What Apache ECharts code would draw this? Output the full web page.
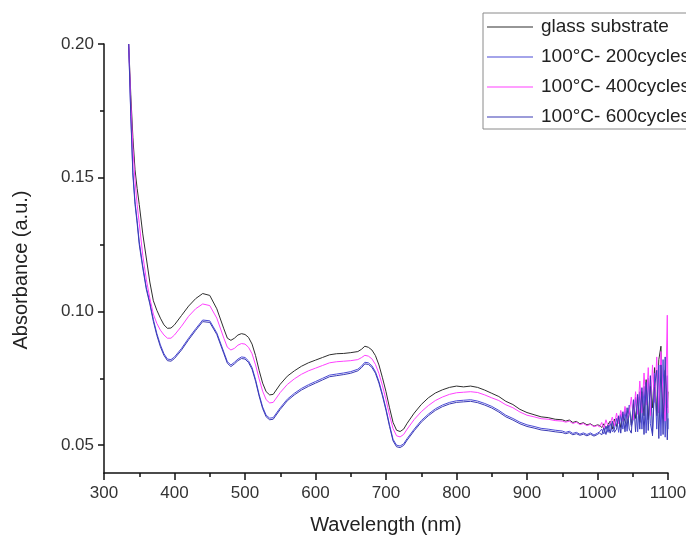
<!DOCTYPE html>
<html>
<head>
<meta charset="utf-8">
<script src="https://cdn.jsdelivr.net/npm/echarts@6/dist/echarts.min.js"></script>
<style>html,body{margin:0;padding:0;background:#fff;}#c{width:686px;height:540px;}</style>
</head>
<body>
<div id="c"></div>
<script>
// Wavelength grid (nm)
const wavelengths = [
  335, 338, 341, 344, 347, 350, 355, 360, 365, 370, 375, 380, 385, 390, 395, 400,
  410, 420, 430, 440, 450, 460, 470, 475, 480, 485, 490, 495, 500, 505, 510, 515, 520, 525, 530, 535, 540,
  550, 560, 570, 580, 590, 600, 610, 620, 630, 640, 650, 660, 665, 670, 675, 680, 685, 690, 695, 700, 705, 710, 715, 720, 725, 730,
  740, 750, 760, 770, 780, 790, 800, 810, 820, 830, 840, 850, 860, 870, 880, 890, 900, 910, 920, 930, 940, 950,
  955, 960, 965, 970, 975, 980, 985, 990, 995, 1000,
  1003, 1006, 1009, 1012, 1015, 1018, 1021, 1024, 1027, 1030, 1033, 1036, 1039, 1042, 1045, 1048, 1051,
  1054, 1057, 1060, 1063, 1066, 1069, 1072, 1075, 1078, 1081, 1084, 1087, 1090, 1093, 1096, 1099, 1100
];

const glassSubstrate = [
  .200, .181, .165, .153, .146, .140, .129, .120, .111, .1040, .1004, .0975, .0950, .0937, .0938, .0950,
  .0985, .1020, .1048, .1067, .1060, .1010, .0935, .0900, .0892, .0900, .0912, .0917, .0914, .0903, .0878, .0835, .0780, .0732, .0700, .0688, .0690,
  .0728, .0758, .0778, .0795, .0808, .0818, .0828, .0838, .0842, .0843, .0846, .0850, .0858, .0870, .0866, .0856, .0835, .0800, .0752, .0700, .0640, .0585, .0556, .0551, .0560, .0582,
  .0620, .0652, .0677, .0695, .0707, .0716, .0721, .0718, .0721, .0716, .0706, .0694, .0682, .0664, .0652, .0634, .0622, .0614, .0606, .0603, .0597, .0595,
  .0590, .0594, .0585, .0589, .0580, .0584, .0576, .0580, .0571, .0576,
  .0574, .0566, .0580, .0562, .0578, .0590, .0560, .0598, .0570, .0605, .0566, .0615, .0590, .0572, .0640, .0575, .0655,
  .0600, .0680, .0585, .0700, .0610, .0745, .0595, .0720, .0640, .0790, .0610, .0820, .0870, .0600, .0780, .0640, .0700
];

const cycles200 = [
  .200, .174, .152, .141, .134, .126, .117, .109, .1035, .0970, .0917, .0875, .0842, .0822, .0820, .0830,
  .0862, .0900, .0935, .0968, .0965, .0920, .0848, .0812, .0800, .0810, .0822, .0830, .0828, .0815, .0790, .0745, .0690, .0643, .0612, .0601, .0603,
  .0640, .0672, .0694, .0712, .0726, .0738, .0750, .0762, .0766, .0770, .0775, .0784, .0795, .0810, .0808, .0797, .0775, .0738, .0690, .0636, .0576, .0522, .0500, .0497, .0505, .0525,
  .0560, .0592, .0616, .0636, .0650, .0660, .0666, .0668, .0670, .0665, .0656, .0645, .0630, .0612, .0600, .0586, .0576, .0570, .0563, .0560, .0556, .0553,
  .0548, .0552, .0544, .0548, .0541, .0546, .0540, .0546, .0538, .0545,
  .0550, .0560, .0542, .0570, .0548, .0585, .0550, .0560, .0600, .0548, .0615, .0560, .0630, .0552, .0650, .0570, .0600,
  .0680, .0550, .0700, .0560, .0720, .0545, .0750, .0580, .0540, .0770, .0560, .0800, .0535, .0820, .0530, .0760, .0560
];

const cycles400 = [
  .200, .178, .161, .149, .140, .133, .121, .112, .105, .0990, .0955, .0930, .0912, .0900, .0900, .0912,
  .0945, .0982, .1010, .1028, .1022, .0975, .0900, .0866, .0856, .0862, .0874, .0880, .0878, .0866, .0842, .0800, .0748, .0702, .0670, .0658, .0660,
  .0697, .0727, .0748, .0765, .0778, .0788, .0798, .0808, .0812, .0814, .0816, .0820, .0827, .0836, .0833, .0823, .0802, .0768, .0722, .0670, .0612, .0562, .0535, .0531, .0540, .0560,
  .0596, .0625, .0648, .0667, .0680, .0690, .0696, .0698, .0700, .0697, .0688, .0677, .0667, .0651, .0640, .0624, .0612, .0606, .0599, .0597, .0592, .0590,
  .0586, .0590, .0581, .0586, .0577, .0581, .0573, .0578, .0569, .0574,
  .0568, .0585, .0562, .0595, .0570, .0580, .0605, .0572, .0620, .0580, .0630, .0590, .0645, .0600, .0620, .0680, .0595,
  .0700, .0615, .0740, .0620, .0770, .0650, .0790, .0610, .0800, .0660, .0830, .0620, .0850, .0680, .0590, .0986, .0620
];

const cycles600 = [
  .200, .173, .151, .140, .133, .125, .1162, .1083, .1028, .0963, .0910, .0868, .0836, .0816, .0814, .0824,
  .0856, .0894, .0929, .0962, .0959, .0914, .0842, .0806, .0794, .0804, .0816, .0824, .0822, .0809, .0784, .0739, .0684, .0637, .0606, .0595, .0597,
  .0634, .0666, .0688, .0706, .0720, .0732, .0744, .0756, .0760, .0764, .0769, .0778, .0789, .0804, .0802, .0791, .0769, .0732, .0684, .0630, .0570, .0516, .0494, .0491, .0499, .0519,
  .0554, .0586, .0610, .0630, .0644, .0654, .0660, .0662, .0664, .0659, .0650, .0639, .0624, .0606, .0594, .0580, .0570, .0564, .0557, .0554, .0550, .0547,
  .0543, .0547, .0539, .0543, .0537, .0541, .0535, .0541, .0534, .0540,
  .0546, .0538, .0565, .0540, .0575, .0545, .0590, .0548, .0560, .0610, .0545, .0625, .0550, .0640, .0560, .0545, .0670,
  .0550, .0690, .0560, .0715, .0540, .0735, .0555, .0760, .0535, .0720, .0780, .0525, .0800, .0540, .0830, .0520, .0600
];

const seriesNames = ['glass substrate', '100°C- 200cycles', '100°C- 400cycles', '100°C- 600cycles'];
const seriesValues = [glassSubstrate, cycles200, cycles400, cycles600];
const seriesColors = ['#2e2e2e', '#4b4bd6', '#ff40ff', '#3a3ab4'];

const yMajorTicks = [0.05, 0.10, 0.15, 0.20];
const yMinorTicks = [0.075, 0.125, 0.175];

const FONT = '"Liberation Sans", Arial, sans-serif';

const chart = echarts.init(document.getElementById('c'), null, {renderer: 'canvas'});

const series = seriesNames.map((name, k) => ({
  name: name,
  type: 'line',
  symbol: 'none',
  showSymbol: false,
  smooth: false,
  color: seriesColors[k],
  lineStyle: {width: 1, color: seriesColors[k]},
  data: wavelengths.map((w, i) => [w, seriesValues[k][i]]),
  z: 2 + k
}));

chart.setOption({
  animation: false,
  backgroundColor: '#ffffff',
  grid: {left: 104, right: 18, top: 44, bottom: 67, containLabel: false, outerBoundsMode: 'none'},
  legend: {
    orient: 'vertical',
    left: 483,
    top: 13,
    data: seriesNames.map(n => ({name: n, icon: 'rect'})),
    itemWidth: 46,
    itemHeight: 1,
    itemGap: 10,
    padding: [4, 10, 2, 4],
    borderColor: '#8a8a8a',
    borderWidth: 1,
    backgroundColor: '#ffffff',
    textStyle: {fontFamily: FONT, fontSize: 19, color: '#222', lineHeight: 20, padding: [0, 0, 0, 3]}
  },
  xAxis: {
    type: 'value',
    min: 300,
    max: 1100,
    interval: 100,
    axisLine: {show: true, onZero: false, lineStyle: {color: '#111', width: 1.5}},
    axisTick: {show: true, inside: false, length: 7, lineStyle: {color: '#111', width: 1.5}},
    minorTick: {show: true, splitNumber: 2, length: 4, lineStyle: {color: '#111', width: 1.5}},
    axisLabel: {fontFamily: FONT, fontSize: 17, color: '#333', margin: 12, formatter: v => String(v)},
    splitLine: {show: false}
  },
  yAxis: [{
    type: 'value',
    min: 0.0396,
    max: 0.20,
    axisLine: {show: true, onZero: false, lineStyle: {color: '#111', width: 1.5}},
    axisTick: {show: true, inside: false, length: 6, customValues: yMajorTicks, lineStyle: {color: '#111', width: 1.5}},
    axisLabel: {fontFamily: FONT, fontSize: 17, color: '#333', margin: 10, customValues: yMajorTicks,
      formatter: v => v.toFixed(2)},
    splitLine: {show: false}
  }, {
    type: 'value',
    min: 0.0396,
    max: 0.20,
    position: 'left',
    axisLine: {show: false},
    axisTick: {show: true, inside: false, length: 4, customValues: yMinorTicks, lineStyle: {color: '#111', width: 1.5}},
    axisLabel: {show: false},
    splitLine: {show: false}
  }],
  graphic: [
    {type: 'text', x: 386, y: 525, style: {text: 'Wavelength (nm)', font: '20px ' + FONT, fill: '#222', align: 'center', verticalAlign: 'middle'}},
    {type: 'text', x: 21, y: 270, rotation: Math.PI / 2, style: {text: 'Absorbance (a.u.)', font: '20px ' + FONT, fill: '#222', align: 'center', verticalAlign: 'middle'}}
  ],
  series: series
});
</script>
</body>
</html>
